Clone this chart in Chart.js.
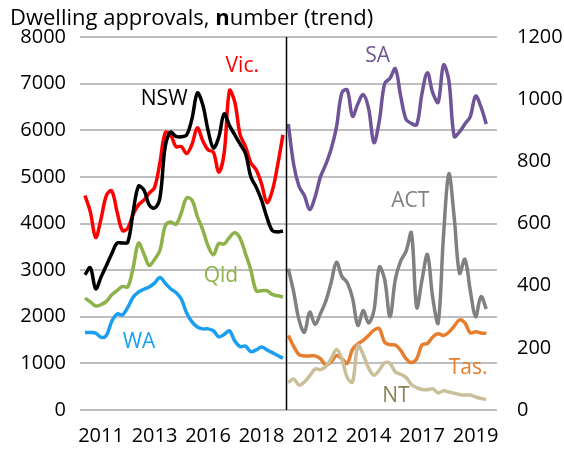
<!DOCTYPE html>
<html>
<head>
<meta charset="utf-8">
<script src="https://cdn.jsdelivr.net/npm/chart.js@4"></script>
<style>
  html, body { margin: 0; padding: 0; background: #fff; }
  #wrap { width: 564px; height: 452px; }
</style>
</head>
<body>
<div id="wrap"><canvas id="approvalsChart" width="564" height="452"></canvas></div>
<script>
// quarterly trend readings, left panel (left axis) and right panel (right axis)
const nsw = [2900, 3050, 2600, 2850, 3100, 3350, 3580, 3580, 3600, 4250, 4800, 4720, 4400, 4330, 4550, 5650, 5960, 5870, 5860, 5900, 6250, 6800, 6550, 6000, 5620, 5850, 6350, 6100, 5900, 5700, 5500, 5000, 4780, 4500, 4130, 3850, 3820, 3840];
const vic = [4600, 4250, 3700, 4100, 4600, 4700, 4250, 3850, 3900, 4200, 4400, 4500, 4650, 4770, 5300, 5950, 5900, 5650, 5650, 5500, 5700, 6050, 5780, 5580, 5530, 5100, 5500, 6850, 6600, 5900, 5650, 5300, 5150, 4850, 4450, 4700, 5250, 5900];
const qld = [2400, 2320, 2230, 2260, 2330, 2470, 2560, 2650, 2640, 3050, 3580, 3350, 3100, 3230, 3420, 3950, 4030, 3980, 4230, 4550, 4500, 4150, 3870, 3520, 3330, 3570, 3560, 3700, 3800, 3680, 3350, 3000, 2560, 2560, 2560, 2480, 2450, 2430];
const wa = [1660, 1660, 1650, 1560, 1600, 1900, 2060, 2040, 2200, 2420, 2530, 2590, 2640, 2720, 2840, 2720, 2600, 2520, 2380, 2080, 1890, 1780, 1740, 1740, 1700, 1570, 1620, 1700, 1480, 1360, 1370, 1250, 1290, 1350, 1290, 1230, 1170, 1110];

const sa = [920, 790, 720, 690, 645, 685, 750, 790, 840, 910, 1020, 1030, 945, 985, 1015, 970, 860, 930, 1050, 1067, 1098, 1010, 935, 922, 918, 1020, 1085, 1020, 990, 1110, 1060, 880, 895, 920, 944, 1010, 975, 920];
const act = [455, 380, 290, 250, 315, 275, 310, 350, 410, 475, 430, 410, 360, 272, 320, 280, 320, 460, 420, 300, 420, 480, 510, 570, 330, 420, 500, 360, 280, 560, 760, 620, 440, 485, 385, 300, 365, 325];
const tas = [240, 205, 178, 174, 174, 174, 165, 145, 155, 175, 165, 150, 195, 213, 224, 240, 257, 262, 218, 210, 209, 192, 165, 152, 165, 210, 214, 235, 245, 240, 250, 270, 290, 280, 248, 252, 248, 247];
const nt = [88, 100, 80, 90, 110, 132, 130, 140, 165, 195, 165, 105, 90, 208, 178, 135, 112, 128, 152, 150, 122, 115, 105, 82, 72, 66, 65, 68, 55, 62, 58, 54, 50, 48, 48, 42, 37, 34];

const rightOffset = 38;   // quarters from left panel start to right panel start
const tickQuarters = [3, 13, 23, 33, 43, 53, 63, 73];
const tickLabels = ['2011', '2013', '2016', '2018', '2012', '2014', '2017', '2019'];
const leftTicks = [0, 1000, 2000, 3000, 4000, 5000, 6000, 7000, 8000];
const rightTicks = [0, 200, 400, 600, 800, 1000, 1200];

const FONT = "'Open Sans', 'Noto Sans', sans-serif";

function pts(values, offset) {
  return values.map((v, i) => ({ x: i + offset, y: v }));
}

function series(label, values, color, offset, axis) {
  return {
    label: label,
    data: pts(values, offset),
    borderColor: color,
    borderWidth: 3.5,
    pointRadius: 0,
    tension: 0.35,
    yAxisID: axis,
    fill: false
  };
}

// series name labels, anchored in data units [quarter, value, axis]
const nameLabels = [
  { text: 'NSW', color: '#000000', q: 14.8, v: 6660, axis: 'yL' },
  { text: 'Vic.', color: '#ff0000', q: 29.4, v: 7380, axis: 'yL' },
  { text: 'Qld', color: '#8db24a', q: 25.4, v: 2880, axis: 'yL' },
  { text: 'WA', color: '#1a9ff0', q: 10.1, v: 1460, axis: 'yL' },
  { text: 'SA', color: '#6f5497', q: 54.7, v: 1140, axis: 'yR' },
  { text: 'ACT', color: '#808080', q: 60.8, v: 673, axis: 'yR' },
  { text: 'Tas.', color: '#e87d2e', q: 71.6, v: 135, axis: 'yR' },
  { text: 'NT', color: '#8c8256', q: 58.1, v: 45, axis: 'yR' }
];

const overlay = {
  id: 'overlay',
  afterDatasetsDraw(chart) {
    const c = chart.ctx;
    const xs = chart.scales.x;
    const area = chart.chartArea;
    // panel divider
    const xd = xs.getPixelForValue((nsw.length - 1 + rightOffset) / 2);
    c.save();
    c.strokeStyle = '#000';
    c.lineWidth = 1.5;
    c.beginPath();
    c.moveTo(Math.round(xd) + 0.5, area.top);
    c.lineTo(Math.round(xd) + 0.5, area.bottom);
    c.stroke();
    // names
    c.font = '21px ' + FONT;
    c.textAlign = 'center';
    c.textBaseline = 'middle';
    nameLabels.forEach(l => {
      c.fillStyle = l.color;
      c.fillText(l.text, xs.getPixelForValue(l.q), chart.scales[l.axis].getPixelForValue(l.v));
    });
    // title with the bold n
    c.textAlign = 'left';
    c.textBaseline = 'alphabetic';
    c.fillStyle = '#000';
    let x = 10;
    const parts = [['Dwelling approvals, ', '400'], ['n', '700'], ['umber (trend)', '400']];
    parts.forEach(p => {
      c.font = p[1] + ' 22px ' + FONT;
      c.fillText(p[0], x, 25);
      x += c.measureText(p[0]).width;
    });
    c.restore();
  }
};

new Chart(document.getElementById('approvalsChart').getContext('2d'), {
  type: 'line',
  data: {
    datasets: [
      series('WA', wa, '#1a9ff0', 0, 'yL'),
      series('Qld', qld, '#8db24a', 0, 'yL'),
      series('NSW', nsw, '#000000', 0, 'yL'),
      series('Vic.', vic, '#ff0000', 0, 'yL'),
      series('NT', nt, '#c9c09b', rightOffset, 'yR'),
      series('Tas.', tas, '#e87d2e', rightOffset, 'yR'),
      series('ACT', act, '#808080', rightOffset, 'yR'),
      series('SA', sa, '#6f5497', rightOffset, 'yR')
    ]
  },
  options: {
    responsive: false,
    animation: false,
    layout: { padding: { top: 37, left: 0, right: 0, bottom: 0 } },
    plugins: { legend: { display: false }, tooltip: { enabled: false }, title: { display: false } },
    scales: {
      x: {
        type: 'linear',
        min: -0.93,
        max: 77,
        grid: { display: false },
        border: { display: false },
        afterBuildTicks: s => { s.ticks = tickQuarters.map(v => ({ value: v })); },
        afterFit: s => { s.height = 42; },
        ticks: {
          autoSkip: false,
          maxRotation: 0,
          padding: 6,
          color: '#000',
          font: { family: FONT, size: 20 },
          callback: v => tickLabels[tickQuarters.indexOf(v)]
        }
      },
      yL: {
        position: 'left',
        min: 0,
        max: 8000,
        afterBuildTicks: s => { s.ticks = leftTicks.map(v => ({ value: v })); },
        afterFit: s => { s.width = 80; },
        grid: { color: '#bfbfbf', lineWidth: 2, drawTicks: false },
        border: { display: false },
        ticks: { padding: 14, color: '#000', font: { family: FONT, size: 20 }, callback: v => String(v) }
      },
      yR: {
        position: 'right',
        min: 0,
        max: 1200,
        afterBuildTicks: s => { s.ticks = rightTicks.map(v => ({ value: v })); },
        afterFit: s => { s.width = 67; },
        grid: { display: false, drawTicks: false },
        border: { display: false },
        ticks: { padding: 20, color: '#000', font: { family: FONT, size: 20 }, callback: v => String(v) }
      }
    }
  },
  plugins: [overlay]
});
</script>
</body>
</html>
